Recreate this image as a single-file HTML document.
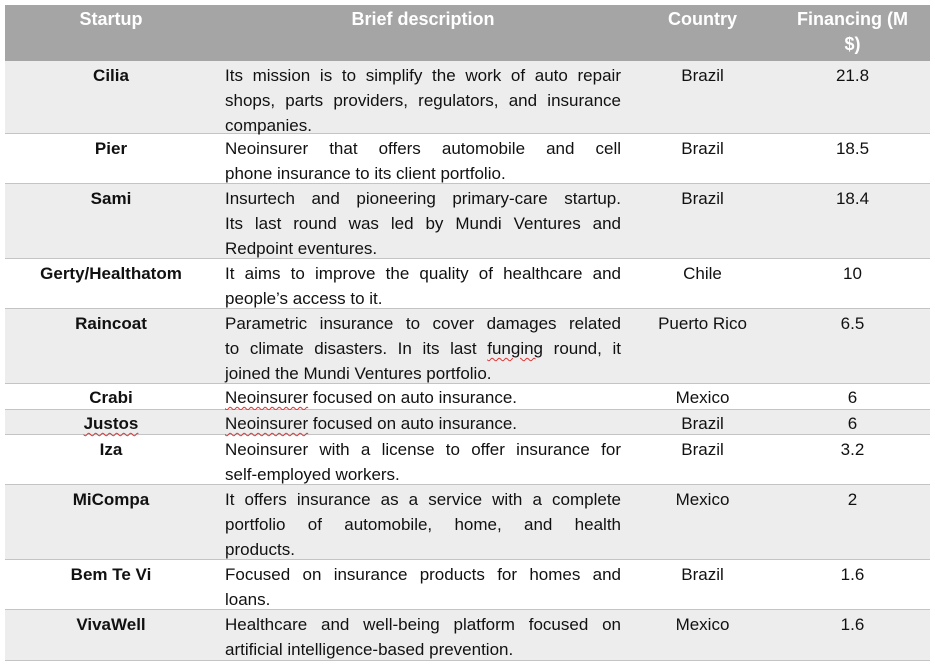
<!DOCTYPE html>
<html><head><meta charset="utf-8"><style>
body{margin:0;width:935px;height:667px;background:#fff;font-family:"Liberation Sans",Arial,sans-serif;font-size:17px;color:#111;overflow:hidden;position:relative}
.r{position:absolute;left:5px;width:925px;border-bottom:1px solid #c4c4c4;box-sizing:border-box}
.g{background:#ededed}
.h{background:#a5a5a5;color:#fff;font-weight:bold;font-size:18px;border:none}
.c{position:absolute;top:2px;line-height:25px}
.s{left:0;width:212px;text-align:center;font-weight:bold}
.d{left:220px;width:396px}
.d div{text-align:justify;text-align-last:justify;white-space:nowrap}
.d div.l{text-align-last:left}
.k{left:625px;width:145px;text-align:center}
.f{left:770px;width:155px;text-align:center}
.h .c{top:2px}
.w{text-decoration:underline wavy #d33;text-decoration-thickness:1px;text-underline-offset:3px}
</style></head><body>
<div class="r h" style="top:5px;height:56px">
<div class="c s">Startup</div><div class="c d" style="text-align:center">Brief description</div><div class="c k">Country</div><div class="c f">Financing (M<br>$)</div></div>

<div class="r g" style="top:61px;height:73px"><div class="c s">Cilia</div><div class="c d"><div>Its mission is to simplify the work of auto repair</div><div>shops, parts providers, regulators, and insurance</div><div class="l">companies.</div></div><div class="c k">Brazil</div><div class="c f">21.8</div></div>

<div class="r" style="top:134px;height:50px"><div class="c s">Pier</div><div class="c d"><div>Neoinsurer that offers automobile and cell</div><div class="l">phone insurance to its client portfolio.</div></div><div class="c k">Brazil</div><div class="c f">18.5</div></div>

<div class="r g" style="top:184px;height:75px"><div class="c s">Sami</div><div class="c d"><div>Insurtech and pioneering primary-care startup.</div><div>Its last round was led by Mundi Ventures and</div><div class="l">Redpoint eventures.</div></div><div class="c k">Brazil</div><div class="c f">18.4</div></div>

<div class="r" style="top:259px;height:50px"><div class="c s">Gerty/Healthatom</div><div class="c d"><div>It aims to improve the quality of healthcare and</div><div class="l">people’s access to it.</div></div><div class="c k">Chile</div><div class="c f">10</div></div>

<div class="r g" style="top:309px;height:75px"><div class="c s">Raincoat</div><div class="c d"><div>Parametric insurance to cover damages related</div><div>to climate disasters. In its last <span class="w">funging</span> round, it</div><div class="l">joined the Mundi Ventures portfolio.</div></div><div class="c k">Puerto Rico</div><div class="c f">6.5</div></div>

<div class="r" style="top:384px;height:26px"><div class="c s" style="top:1px">Crabi</div><div class="c d" style="top:1px"><div class="l"><span class="w">Neoinsurer</span> focused on auto insurance.</div></div><div class="c k" style="top:1px">Mexico</div><div class="c f" style="top:1px">6</div></div>

<div class="r g" style="top:410px;height:25px"><div class="c s" style="top:1px"><span class="w">Justos</span></div><div class="c d" style="top:1px"><div class="l"><span class="w">Neoinsurer</span> focused on auto insurance.</div></div><div class="c k" style="top:1px">Brazil</div><div class="c f" style="top:1px">6</div></div>

<div class="r" style="top:435px;height:50px"><div class="c s">Iza</div><div class="c d"><div>Neoinsurer with a license to offer insurance for</div><div class="l">self-employed workers.</div></div><div class="c k">Brazil</div><div class="c f">3.2</div></div>

<div class="r g" style="top:485px;height:75px"><div class="c s">MiCompa</div><div class="c d"><div>It offers insurance as a service with a complete</div><div>portfolio of automobile, home, and health</div><div class="l">products.</div></div><div class="c k">Mexico</div><div class="c f">2</div></div>

<div class="r" style="top:560px;height:50px"><div class="c s">Bem Te Vi</div><div class="c d"><div>Focused on insurance products for homes and</div><div class="l">loans.</div></div><div class="c k">Brazil</div><div class="c f">1.6</div></div>

<div class="r g" style="top:610px;height:51px"><div class="c s">VivaWell</div><div class="c d"><div>Healthcare and well-being platform focused on</div><div class="l">artificial intelligence-based prevention.</div></div><div class="c k">Mexico</div><div class="c f">1.6</div></div>
</body></html>
